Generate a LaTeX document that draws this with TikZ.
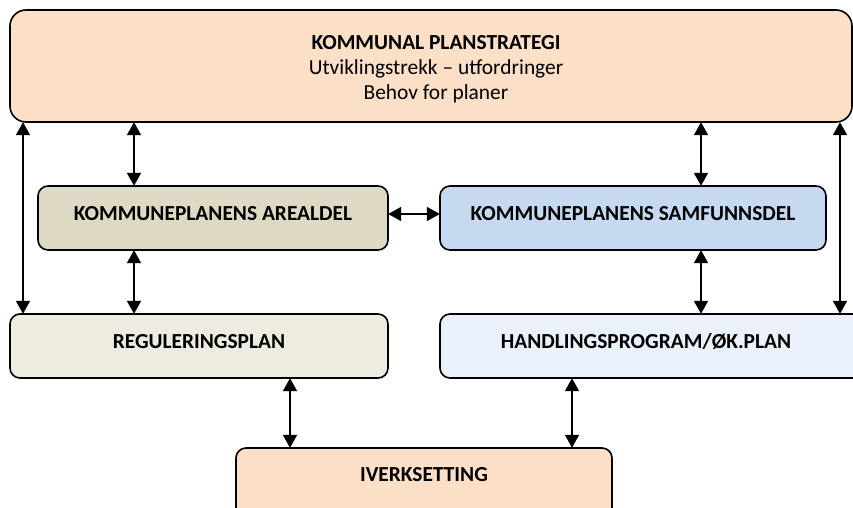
\documentclass[tikz,border=0pt]{standalone}
\usepackage{fontspec}
\setmainfont{Carlito}
\usetikzlibrary{arrows.meta}
\definecolor{peach}{HTML}{FBDFC6}
\definecolor{tan}{HTML}{DDD9C4}
\definecolor{sky}{HTML}{C6D9F1}
\definecolor{cream}{HTML}{EEECE1}
\definecolor{pale}{HTML}{EBF1FA}
\tikzset{
  box/.style={draw=black, line width=1.6pt, rounded corners=10pt, inner sep=0pt},
  lbl/.style={font=\fontsize{21.4}{24}\selectfont\bfseries, anchor=center},
  link/.style={line width=1.8pt, {Triangle[length=13pt,width=14pt]}-{Triangle[length=13pt,width=14pt]}}
}
\begin{document}
\begin{tikzpicture}[x=1pt,y=-1pt]
\useasboundingbox (0,0) rectangle (853,508);
% boxes
\draw[box, fill=peach, rounded corners=16pt] (10,10) rectangle (852,122);
\node (top) [minimum width=842pt, minimum height=112pt, inner sep=0pt] at (431,66) {};
\node[font=\fontsize{21.4}{25}\selectfont, align=center] (toptxt) at (436,69) {\textbf{KOMMUNAL PLANSTRATEGI}\\Utviklingstrekk – utfordringer\\Behov for planer};

\draw[box, fill=tan] (38,186) rectangle (388,250);
\node (are) [minimum width=350pt, minimum height=64pt, inner sep=0pt] at (213,218) {};
\node[lbl] (aretxt) at (213,214) {KOMMUNEPLANENS AREALDEL};

\draw[box, fill=sky] (440,186) rectangle (826,250);
\node (sam) [minimum width=386pt, minimum height=64pt, inner sep=0pt] at (633,218) {};
\node[lbl] (samtxt) at (633,214) {KOMMUNEPLANENS SAMFUNNSDEL};

\draw[box, fill=cream] (10,314) rectangle (388,378);
\node (reg) [minimum width=378pt, minimum height=64pt, inner sep=0pt] at (199,346) {};
\node[lbl] (regtxt) at (199,342) {REGULERINGSPLAN};

\draw[box, fill=pale] (440,314) rectangle (866,378);
\node (han) [minimum width=426pt, minimum height=64pt, inner sep=0pt] at (653,346) {};
\node[lbl] (hantxt) at (646,342) {HANDLINGSPROGRAM/ØK.PLAN};

\draw[box, fill=peach] (236,448) rectangle (612,520);
\node (ive) [minimum width=376pt, minimum height=72pt, inner sep=0pt] at (424,484) {};
\node[lbl] (ivetxt) at (424,475) {IVERKSETTING};

% connectors
\draw[link] (top.south -| 23,0) -- (reg.north -| 23,0);
\draw[link] (top.south -| 134,0) -- (are.north -| 134,0);
\draw[link] (are.south -| 134,0) -- (reg.north -| 134,0);
\draw[link] (are.east |- 0,214) -- (sam.west |- 0,214);
\draw[link] (top.south -| 701,0) -- (sam.north -| 701,0);
\draw[link] (sam.south -| 701,0) -- (han.north -| 701,0);
\draw[link] (top.south -| 840,0) -- (han.north -| 840,0);
\draw[link] (reg.south -| 290,0) -- (ive.north -| 290,0);
\draw[link] (han.south -| 572,0) -- (ive.north -| 572,0);
\end{tikzpicture}
\end{document}
